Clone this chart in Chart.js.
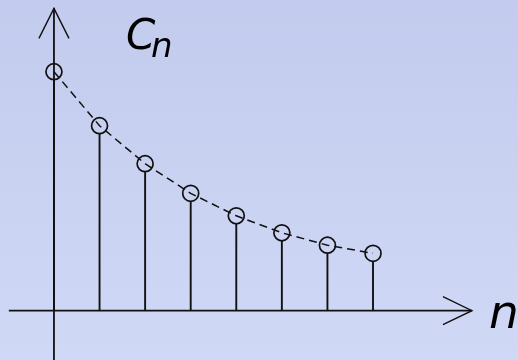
<!DOCTYPE html>
<html>
<head>
<meta charset="utf-8">
<script src="https://cdn.jsdelivr.net/npm/chart.js@4/dist/chart.umd.min.js"></script>
<style>
  html, body { margin: 0; padding: 0; }
  body {
    width: 518px; height: 360px; overflow: hidden;
    background: linear-gradient(180deg, #c3cbee 0%, #cad2f2 50%, #cfd8f5 100%);
  }
  #wrap { position: relative; width: 518px; height: 360px; }
</style>
</head>
<body>
<div id="wrap"><canvas id="c" width="518" height="360"></canvas></div>
<script>
// Sequence index n and the coefficient values C_n (normalised so C_0 = 1)
const nValues = [0, 1, 2, 3, 4, 5, 6, 7];
const cValues = [1.000, 0.774, 0.615, 0.491, 0.397, 0.326, 0.274, 0.240];
const yLabel = 'C';
const ySub = 'n';
const xLabel = 'n';

const points = nValues.map((n, i) => ({ x: n, y: cValues[i] }));

const INK = '#111111';
const MARK_R = 8;

// Axes with open arrowheads, stems from the baseline and the axis letters
const stemPlot = {
  id: 'stemPlot',
  beforeDatasetsDraw(chart) {
    const { ctx, scales: { x, y } } = chart;
    const x0 = x.getPixelForValue(0);
    const y0 = y.getPixelForValue(0);
    ctx.save();
    ctx.strokeStyle = INK;
    ctx.lineCap = 'butt';

    // horizontal axis
    const xl = x.getPixelForValue(-0.99), xr = x.getPixelForValue(9.17);
    ctx.lineWidth = 1.8;
    ctx.beginPath();
    ctx.moveTo(xl, y0); ctx.lineTo(xr, y0);
    ctx.stroke();
    ctx.lineWidth = 1.4;
    ctx.beginPath();
    ctx.moveTo(xr - 29, y0 - 14); ctx.lineTo(xr, y0); ctx.lineTo(xr - 29, y0 + 14);
    ctx.stroke();

    // vertical axis
    const yt = y.getPixelForValue(1.265), yb = chart.height;
    ctx.lineWidth = 1.8;
    ctx.beginPath();
    ctx.moveTo(x0, yb); ctx.lineTo(x0, yt);
    ctx.stroke();
    ctx.lineWidth = 1.4;
    ctx.beginPath();
    ctx.moveTo(x0 - 15, yt + 30); ctx.lineTo(x0, yt); ctx.lineTo(x0 + 15, yt + 30);
    ctx.stroke();

    // stems
    ctx.lineWidth = 1.9;
    chart.data.datasets[0].data.forEach(p => {
      const px = x.getPixelForValue(p.x);
      const py = y.getPixelForValue(p.y);
      ctx.beginPath();
      ctx.moveTo(px, y0);
      ctx.lineTo(px, py + MARK_R);
      ctx.stroke();
    });

    // axis letters
    ctx.fillStyle = '#000';
    ctx.textBaseline = 'alphabetic';
    ctx.textAlign = 'left';
    ctx.font = 'oblique 42px "DejaVu Sans"';
    ctx.fillText(yLabel, 126, 49);
    ctx.font = 'oblique 34px "DejaVu Sans"';
    ctx.fillText(ySub, 151, 57);
    ctx.font = 'oblique 47px "DejaVu Sans"';
    ctx.fillText(xLabel, 489, 328);
    ctx.restore();
  }
};

new Chart(document.getElementById('c'), {
  type: 'scatter',
  data: {
    datasets: [{
      data: points,
      showLine: true,
      borderColor: INK,
      borderWidth: 1.5,
      borderDash: [8, 5],
      pointRadius: MARK_R,
      pointHoverRadius: MARK_R,
      pointBorderWidth: 1.7,
      pointBorderColor: INK,
      pointBackgroundColor: 'rgba(0,0,0,0)',
      pointStyle: 'circle',
      tension: 0
    }]
  },
  options: {
    responsive: false,
    animation: false,
    layout: { padding: 0, autoPadding: false },
    plugins: { legend: { display: false }, tooltip: { enabled: false } },
    scales: {
      x: { type: 'linear', display: false, min: -1.184, max: 10.181 },
      y: { type: 'linear', display: false, min: -0.2063, max: 1.300 }
    }
  },
  plugins: [stemPlot]
});
</script>
</body>
</html>
